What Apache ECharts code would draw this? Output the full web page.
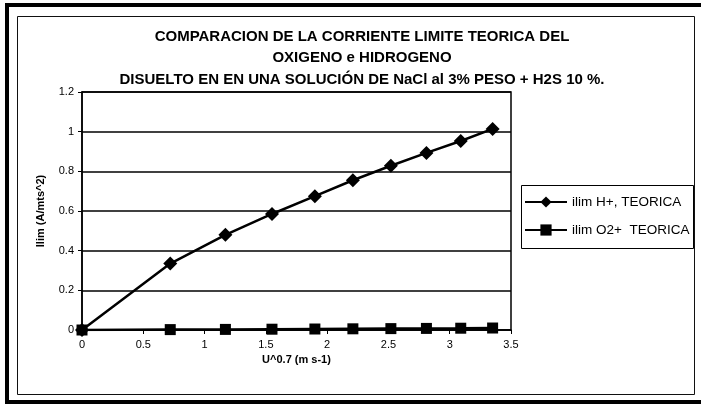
<!DOCTYPE html>
<html>
<head>
<meta charset="utf-8">
<script src="https://cdn.jsdelivr.net/npm/echarts@6/dist/echarts.min.js"></script>
<style>html,body{margin:0;padding:0;background:#fff;}#c{width:701px;height:407px;}</style>
</head>
<body>
<div id="c"></div>
<script>
const xValues = [0, 0.72, 1.17, 1.55, 1.90, 2.21, 2.52, 2.81, 3.09, 3.35];
const ilimH = [0, 0.335, 0.48, 0.585, 0.675, 0.755, 0.828, 0.893, 0.953, 1.014];
const ilimO2 = [0, 0.002, 0.003, 0.004, 0.005, 0.006, 0.007, 0.008, 0.009, 0.01];
const seriesNames = ['ilim H+, TEORICA', 'ilim O2+  TEORICA'];
const titleLines = ['COMPARACION DE LA CORRIENTE LIMITE TEORICA DEL', 'OXIGENO e HIDROGENO', 'DISUELTO EN EN UNA SOLUCIÓN DE NaCl al 3% PESO + H2S 10 %.'];
const xTitle = 'U^0.7 (m s-1)';
const yTitle = 'Ilim (A/mts^2)';

const chart = echarts.init(document.getElementById('c'));
const pair = (ys) => xValues.map((x, i) => [x, ys[i]]);
const font = 'Arial, "Liberation Sans", sans-serif';
chart.setOption({
  animation: false,
  backgroundColor: '#fff',
  title: {
    text: titleLines.join('\n'),
    left: 357, top: 21, textAlign: 'center',
    textStyle: { fontFamily: font, fontWeight: 'bold', fontSize: 15, lineHeight: 21.5, color: '#000' }
  },
  graphic: [
    { type: 'rect', shape: { x: 7, y: 5, width: 700, height: 397 }, style: { fill: 'none', stroke: '#000', lineWidth: 4 } },
    { type: 'rect', shape: { x: 17.5, y: 16.5, width: 677, height: 378 }, style: { fill: 'none', stroke: '#111', lineWidth: 1 } },
    { type: 'rect', shape: { x: 521.5, y: 185.5, width: 172, height: 63 }, style: { fill: '#fff', stroke: '#000', lineWidth: 1 }, z: 0 }
  ],
  legend: {
    orient: 'vertical', left: 524, top: 195, padding: 0, itemWidth: 42, itemHeight: 14, itemGap: 14,
    textStyle: { fontFamily: font, fontSize: 13.5, color: '#000' },
    data: seriesNames, z: 10
  },
  grid: { left: 82, right: 190, top: 92, bottom: 77 },
  xAxis: {
    type: 'value', min: 0, max: 3.5, interval: 0.5,
    name: xTitle, nameLocation: 'middle', nameGap: 22,
    nameTextStyle: { fontFamily: font, fontWeight: 'bold', fontSize: 11, color: '#000' },
    axisLine: { lineStyle: { color: '#000', width: 1.5 } },
    axisTick: { show: true, length: 4, lineStyle: { color: '#000' } },
    axisLabel: { fontFamily: font, fontSize: 11, color: '#000', margin: 9 },
    splitLine: { show: false }
  },
  yAxis: {
    type: 'value', min: 0, max: 1.2, interval: 0.2,
    name: yTitle, nameLocation: 'middle', nameGap: 36, nameRotate: 90,
    nameTextStyle: { fontFamily: font, fontWeight: 'bold', fontSize: 11, color: '#000' },
    axisLine: { show: true, lineStyle: { color: '#000', width: 1.5 } },
    axisTick: { show: true, length: 4, lineStyle: { color: '#000' } },
    axisLabel: { fontFamily: font, fontSize: 11, color: '#000', margin: 8 },
    splitLine: { show: true, lineStyle: { color: '#000', width: 1.5 } }
  },
  series: [
    {
      name: seriesNames[0], type: 'line', data: pair(ilimH),
      symbol: 'diamond', symbolSize: 14,
      lineStyle: { color: '#000', width: 2.5 }, itemStyle: { color: '#000' }, z: 3
    },
    {
      name: seriesNames[1], type: 'line', data: pair(ilimO2),
      symbol: 'rect', symbolSize: 11,
      lineStyle: { color: '#000', width: 2.5 }, itemStyle: { color: '#000' }, z: 3
    }
  ]
});
// plot area border (top/right)
const p0 = chart.convertToPixel({gridIndex:0}, [0, 1.2]);
const p1 = chart.convertToPixel({gridIndex:0}, [3.5, 0]);
chart.setOption({
  graphic: [
    {}, {}, {},
    { type: 'rect', shape: { x: p0[0], y: p0[1], width: p1[0]-p0[0], height: p1[1]-p0[1] }, style: { fill: 'none', stroke: '#000', lineWidth: 1.5 }, z: 5, silent: true }
  ]
});
</script>
</body>
</html>
